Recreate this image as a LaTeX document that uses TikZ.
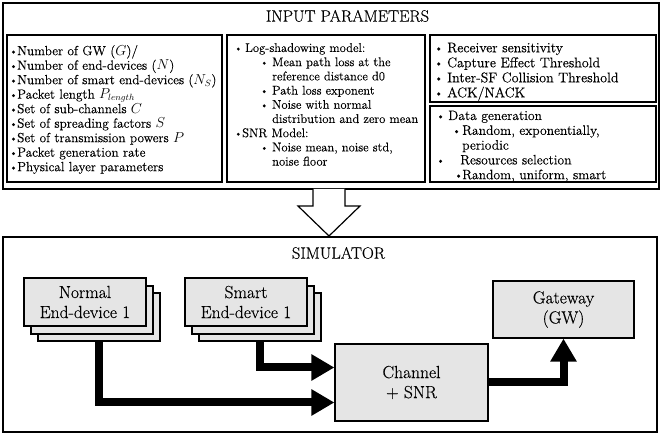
\documentclass[tikz,border=0pt]{standalone}
\usepackage{fontspec}
\setmainfont{Latin Modern Roman}[FakeBold=0.3]
\usepackage{graphicx}
\usetikzlibrary{arrows.meta,calc}
\tikzset{
  outerbox/.style={draw, line width=1.4pt, inner sep=0pt},
  innerbox/.style={draw, line width=2pt, inner sep=0pt},
  listtext/.style={anchor=north west, inner sep=0pt, align=left},
  devbox/.style={draw, line width=1.2pt, fill=black!10, minimum width=122pt, minimum height=48pt, inner sep=0pt, align=center, font=\fontsize{17.5}{20}\selectfont},
  fat/.style={line width=8pt, -{Triangle[length=23pt,width=25pt]}, line join=miter},
  titletext/.style={font=\fontsize{16.5}{18}\selectfont, inner sep=0pt},
}
\newcommand{\bx}[1]{\makebox[#1][l]{\raisebox{0.3pt}{\scalebox{0.85}{\textbullet}}}}
\begin{document}
\begin{tikzpicture}[x=1pt,y=-1pt]
\useasboundingbox (0,0) rectangle (662,435);
% input parameters frame
\node[outerbox, minimum width=656pt, minimum height=186pt] (inp) at (331,96) {};
\node[titletext] (inpt) at (347.5,16) {INPUT PARAMETERS};
\node[innerbox, minimum width=215pt, minimum height=147pt] (lbox) at (114.5,108.5) {};
\node[innerbox, minimum width=198pt, minimum height=147pt] (mbox) at (326,108.5) {};
\node[innerbox, minimum width=226pt, minimum height=67pt] (rtbox) at (543,68.5) {};
\node[innerbox, minimum width=226pt, minimum height=76pt] (rbbox) at (543,144) {};
% texts
\node[listtext, font=\fontsize{13.3}{14.5}\selectfont] (ltxt) at (9,45) {%
\bx{8pt}Number of GW ($G$)/\\
\bx{8pt}Number of end-devices ($N$)\\
\bx{8pt}Number of smart end-devices ($N_S$)\\
\bx{8pt}Packet length $P_{length}$\\
\bx{8pt}Set of sub-channels $C$\\
\bx{8pt}Set of spreading factors $S$\\
\bx{8pt}Set of transmission powers $P$\\
\bx{8pt}Packet generation rate\\
\bx{8pt}Physical layer parameters};
\node[listtext, font=\fontsize{12.6}{14.2}\selectfont] (mtxt) at (234,43) {%
\bx{11pt}Log-shadowing model:\\
\hspace*{26pt}\bx{12pt}Mean path loss at the\\
\hspace*{38pt}reference distance d0\\
\hspace*{26pt}\bx{12pt}Path loss exponent\\
\hspace*{26pt}\bx{12pt}Noise with normal\\
\hspace*{38pt}distribution and zero mean\\
\bx{8pt}SNR Model:\\
\hspace*{26pt}\bx{12pt}Noise mean, noise std,\\
\hspace*{38pt}noise floor};
\node[listtext, font=\fontsize{14}{15}\selectfont] (rttxt) at (434,42.5) {%
\bx{13pt}Receiver sensitivity\\
\bx{13pt}Capture Effect Threshold\\
\bx{13pt}Inter-SF Collision Threshold\\
\bx{13pt}ACK/NACK};
\node[listtext, font=\fontsize{13.6}{14.8}\selectfont] (rbtxt) at (436,110.5) {%
\bx{12pt}Data generation\\
\hspace*{16pt}\bx{10pt}Random, exponentially,\\
\hspace*{26pt}periodic\\
\bx{24pt}Resources selection\\
\hspace*{18pt}\bx{8pt}Random, uniform, smart};
% hollow arrow
\draw[line width=1.2pt, fill=white, line join=miter] (313,189) -- (313,206) -- (298,206) -- (329,236) -- (360,206) -- (345,206) -- (345,189);
% simulator frame
\node[outerbox, minimum width=654pt, minimum height=195pt] (sim) at (330,334.5) {};
\node[titletext] (simt) at (338.5,253) {SIMULATOR};
% normal end-device stack
\node[devbox] (nb3) at (99,317) {};
\node[devbox] (nb2) at (92,310) {};
\node[devbox] (nb1) at (85,302) {Normal\\End-device 1};
% smart end-device stack
\node[devbox] (sb3) at (260,317) {};
\node[devbox] (sb2) at (253,310) {};
\node[devbox] (sb1) at (246,302) {Smart\\End-device 1};
% gateway and channel
\node[devbox, minimum width=141pt, minimum height=57pt] (gw) at (563.5,309.5) {Gateway\\(GW)};
\node[devbox, minimum width=153pt, minimum height=77pt] (chan) at (411.5,382.5) {Channel\\+ SNR};
% connectors
\draw[fat] (nb3.south) |- ($(chan.west)+(0,20)$);
\draw[fat] (sb3.south) |- ($(chan.west)+(0,-15)$);
\draw[fat] (chan.east) -| (gw.south);
\end{tikzpicture}
\end{document}
